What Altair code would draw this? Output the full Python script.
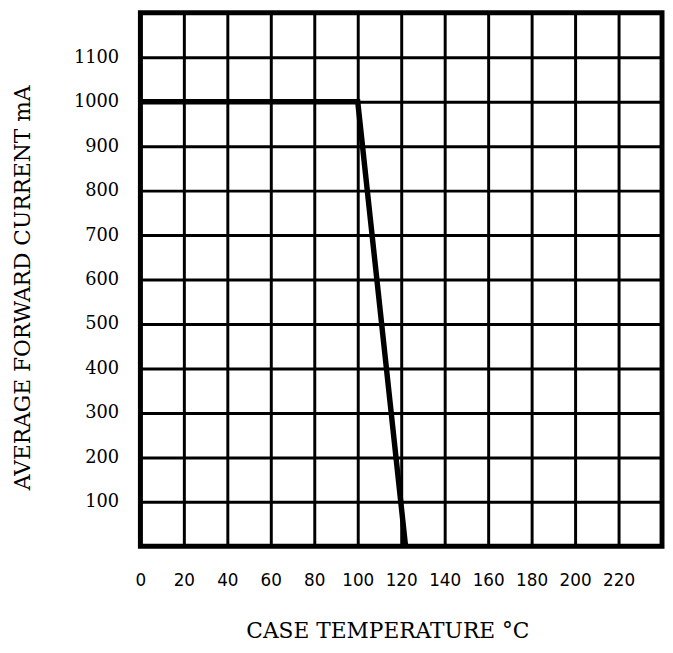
import altair as alt
import pandas as pd

# Derating curve (case temperature in °C, average forward current in mA)
temperature = [0, 100, 122]
current = [1000, 1000, 0]

x_tick_values = [0, 20, 40, 60, 80, 100, 120, 140, 160, 180, 200, 220]
y_tick_values = [100, 200, 300, 400, 500, 600, 700, 800, 900, 1000, 1100]

df = pd.DataFrame({"temperature": temperature, "current": current})

chart = (
    alt.Chart(df)
    .mark_line(color="black", strokeWidth=5.5, strokeJoin="miter", strokeCap="butt")
    .encode(
        x=alt.X(
            "temperature:Q",
            scale=alt.Scale(domain=[0, 240], nice=False, zero=False),
            axis=alt.Axis(
                values=x_tick_values,
                format="d",
                title="CASE TEMPERATURE °C",
                titleFont="DejaVu Serif",
                titleFontSize=22,
                titleFontWeight="normal",
                titleColor="black",
                titleX=250,
                titleY=85,
                titleAlign="center",
                titleBaseline="middle",
                labelFont="DejaVu Sans",
                labelFontSize=17,
                labelColor="black",
                labelPadding=27,
                labelFlush=False,
                labelOverlap=False,
                ticks=False,
                tickSize=0,
                domain=False,
                grid=True,
                gridColor="black",
                gridOpacity=1,
                gridWidth=3,
            ),
        ),
        y=alt.Y(
            "current:Q",
            scale=alt.Scale(domain=[0, 1200], nice=False, zero=False),
            axis=alt.Axis(
                values=y_tick_values,
                format="d",
                title="AVERAGE FORWARD CURRENT mA",
                titleFont="DejaVu Serif",
                titleFontSize=22,
                titleFontWeight="normal",
                titleColor="black",
                titleAngle=270,
                titleX=-119,
                titleY=278,
                titleAlign="center",
                titleBaseline="middle",
                labelFont="DejaVu Serif",
                labelFontSize=18,
                labelColor="black",
                labelPadding=22,
                labelFlush=False,
                labelOverlap=False,
                ticks=False,
                tickSize=0,
                domain=False,
                grid=True,
                gridColor="black",
                gridOpacity=1,
                gridWidth=3,
            ),
        ),
    )
    .properties(
        width=528,
        height=540,
        padding={"left": 134, "top": 1, "right": 3, "bottom": 95},
        autosize=alt.AutoSizeParams(type="none"),
        background="white",
    )
    .configure_view(stroke="black", strokeWidth=5)
)

chart.save("out.html", embed_options={"renderer": "svg", "actions": False})
